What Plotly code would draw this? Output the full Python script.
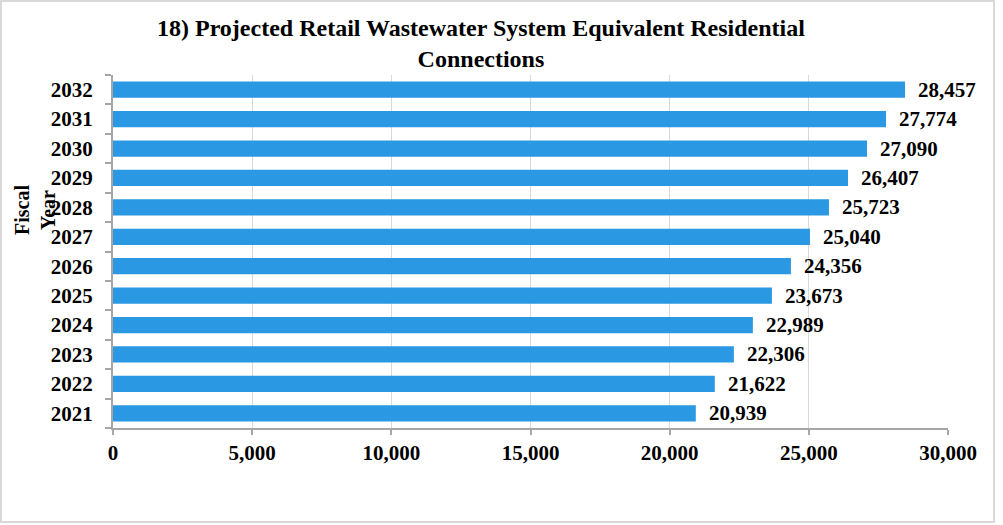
import plotly.graph_objects as go

years = ["2021", "2022", "2023", "2024", "2025", "2026", "2027", "2028", "2029", "2030", "2031", "2032"]
values = [20939, 21622, 22306, 22989, 23673, 24356, 25040, 25723, 26407, 27090, 27774, 28457]
x_ticks = [0, 5000, 10000, 15000, 20000, 25000, 30000]
x_tick_labels = ["0", "5,000", "10,000", "15,000", "20,000", "25,000", "30,000"]

W, H = 1003, 525
L, R, T, B = 113, 948, 75, 428
serif = "Liberation Serif, Times New Roman, serif"
bold = dict(family=serif, size=21, color="black", weight="bold")

fig = go.Figure(go.Bar(
    y=years, x=values, orientation="h",
    marker=dict(color="#2A98E2", line=dict(width=0)),
    width=0.55,
))

pw, ph = R - L, B - T
def px_x(p): return (p - L) / pw
def px_y(p): return (B - p) / ph

annotations = [
    dict(text="18) Projected Retail Wastewater System Equivalent Residential<br>Connections",
         xref="paper", yref="paper", x=px_x(481), y=px_y(44), xanchor="center", yanchor="middle",
         showarrow=False, align="center",
         font=dict(family=serif, size=24, color="black", weight="bold")),
    dict(text="Fiscal<br>Year", textangle=-90,
         xref="paper", yref="paper", x=px_x(35), y=px_y(210), xanchor="center", yanchor="middle",
         showarrow=False, align="center",
         font=dict(family=serif, size=20, color="black", weight="bold")),
]
for i, v in enumerate(values):
    annotations.append(dict(
        text=f"{v:,}", x=v, y=i, xref="x", yref="y", xanchor="left", yanchor="middle",
        xshift=11, showarrow=False, font=bold,
    ))

fig.update_layout(
    width=W, height=H,
    margin=dict(l=L, r=W - R, t=T, b=H - B),
    paper_bgcolor="white", plot_bgcolor="white",
    showlegend=False,
    font=dict(family=serif, color="black"),
    xaxis=dict(
        range=[0, 30000], tickvals=x_ticks, ticktext=x_tick_labels,
        showgrid=True, gridcolor="#d9d9d9", gridwidth=1,
        showline=True, linecolor="#a6a6a6", linewidth=2,
        ticks="outside", ticklen=5, tickcolor="#a6a6a6", tickwidth=2,
        tickfont=bold, ticklabelstandoff=0, zeroline=False, fixedrange=True,
    ),
    yaxis=dict(
        type="category", categoryorder="array", categoryarray=years,
        range=[-0.5, len(years) - 0.5],
        showline=True, linecolor="#a6a6a6", linewidth=2,
        ticks="outside", ticklen=6, tickcolor="#a6a6a6", tickwidth=2,
        tickson="boundaries", showgrid=False,
        tickfont=bold, ticklabelstandoff=14, fixedrange=True,
    ),
    annotations=annotations,
    shapes=[
        dict(type="rect", xref="paper", yref="paper",
             x0=px_x(1), x1=px_x(994), y0=px_y(522), y1=px_y(1),
             line=dict(color="#d9d9d9", width=2), fillcolor="rgba(0,0,0,0)", layer="below"),
    ],
)

fig.write_html("out.html")
